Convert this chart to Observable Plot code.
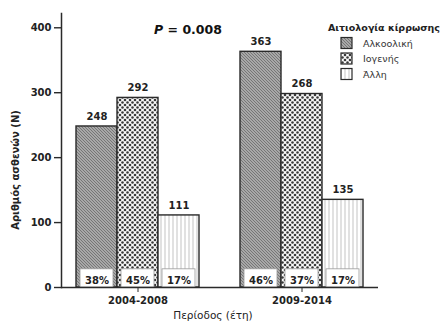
<!DOCTYPE html>
<html><head><meta charset="utf-8">
<script src="https://cdn.jsdelivr.net/npm/d3@7"></script>
<script src="https://cdn.jsdelivr.net/npm/@observablehq/plot@0.6"></script>
<style>
body{margin:0;background:#fff}
svg{font-family:"DejaVu Sans",sans-serif}
</style>
</head><body><div id="chart"></div>
<script>
// ---- data ----
const periods = ["2004-2008", "2009-2014"];
const etiologies = ["Αλκοολική", "Ιογενής", "Άλλη"];
const barValues2004 = [248, 292, 111];
const barValues2009 = [363, 298, 135];      // drawn heights (as in the picture)
const valueLabels2004 = ["248", "292", "111"];
const valueLabels2009 = ["363", "268", "135"];
const percents2004 = ["38%", "45%", "17%"];
const percents2009 = ["46%", "37%", "17%"];
const yTicks = [0, 100, 200, 300, 400];
const legendTitle = "Αιτιολογία κίρρωσης";
const yLabel = "Αριθμός ασθενών (Ν)";
const xLabel = "Περίοδος (έτη)";

const values = [barValues2004, barValues2009];
const labels = [valueLabels2004, valueLabels2009];
const pcts = [percents2004, percents2009];
const data = [];
periods.forEach((p, pi) => etiologies.forEach((e, ei) => data.push({
  period: p, etiology: e, ei, key: p + "|" + e,
  value: values[pi][ei], label: labels[pi][ei], pct: pcts[pi][ei]
})));
const domain = [
  ...etiologies.map(e => periods[0] + "|" + e), "gap",
  ...etiologies.map(e => periods[1] + "|" + e)
];
const midKeys = periods.map(p => p + "|" + etiologies[1]);

const ink = "#2a2a2a";
const txt = {fontFamily: "DejaVu Sans", fontWeight: "bold", fontSize: 10, fill: "#222"};

const chart = Plot.plot({
  width: 446, height: 324,
  marginLeft: 61, marginRight: 68, marginTop: 13, marginBottom: 37,
  x: {type: "band", domain, padding: 0, insetLeft: 15, insetRight: 15, axis: null},
  y: {domain: [0, 422], axis: null},
  marks: [
    ...etiologies.map((e, i) => Plot.barY(data.filter(d => d.ei === i), {
      x: "key", y: "value", fill: `url(#pat${i})`, stroke: ink, strokeWidth: 1.4
    })),
    Plot.barY(data, {x: "key", y1: d => 0, y2: d => 28, insetLeft: 4, insetRight: 4,
      fill: "#fff", stroke: "#9a9a9a", strokeWidth: 0.8}),
    Plot.text(data, {x: "key", y: d => 0, dy: -7, text: "pct", ...txt}),
    Plot.text(data, {x: "key", y: "value", dy: -10, text: "label", ...txt}),
    Plot.ruleY([0], {stroke: ink, strokeWidth: 1.5}),
    Plot.frame({anchor: "left", stroke: ink, strokeWidth: 1.5}),
    Plot.axisY({ticks: yTicks, tickSize: 7, tickPadding: 3, label: null, stroke: ink, strokeWidth: 1.4, ...txt}),
    Plot.axisX({ticks: midKeys, tickFormat: k => k.split("|")[0], tickSize: 5, tickPadding: 4, label: null, stroke: ink, ...txt})
  ]
});

const svg = d3.select(chart);
const defs = svg.insert("defs", ":first-child");
// Αλκοολική: dense diagonal hatching
const p0 = defs.append("pattern").attr("id", "pat0").attr("patternUnits", "userSpaceOnUse").attr("width", 3).attr("height", 3);
p0.append("rect").attr("width", 3).attr("height", 3).attr("fill", "#a8a8a8");
p0.append("path").attr("d", "M-1,-1L4,4M-1,2L1,4M2,-1L4,1").attr("stroke", "#606060").attr("stroke-width", 0.7);
// Ιογενής: dotted lattice
const p1 = defs.append("pattern").attr("id", "pat1").attr("patternUnits", "userSpaceOnUse").attr("width", 5).attr("height", 5);
p1.append("rect").attr("width", 5).attr("height", 5).attr("fill", "#fafafa");
[[0,0],[5,0],[0,5],[5,5],[2.5,2.5]].forEach(([cx, cy]) =>
  p1.append("circle").attr("cx", cx).attr("cy", cy).attr("r", 1.3).attr("fill", "#3a3a3a"));
// Άλλη: light vertical lines
const p2 = defs.append("pattern").attr("id", "pat2").attr("patternUnits", "userSpaceOnUse").attr("width", 4).attr("height", 4);
p2.append("rect").attr("width", 4).attr("height", 4).attr("fill", "#fff");
p2.append("line").attr("x1", 1).attr("x2", 1).attr("y1", 0).attr("y2", 4).attr("stroke", "#c4c4c4").attr("stroke-width", 1);

// P value
const pt = svg.append("text").attr("x", 188).attr("y", 34).attr("text-anchor", "middle")
  .attr("font-size", 12.5).attr("font-weight", "bold").attr("fill", "#111");
pt.append("tspan").attr("font-style", "italic").text("P");
pt.append("tspan").text(" = 0.008");

// legend
const lg = svg.append("g").attr("text-anchor", "start");
lg.append("text").attr("x", 328).attr("y", 31).attr("text-anchor", "start")
  .attr("font-size", 9.5).attr("font-weight", "bold").attr("fill", "#222").text(legendTitle);
etiologies.forEach((e, i) => {
  const y = 37.5 + i * 15.5;
  lg.append("rect").attr("x", 341).attr("y", y).attr("width", 11).attr("height", 11)
    .attr("fill", `url(#pat${i})`).attr("stroke", ink).attr("stroke-width", 1.2);
  lg.append("text").attr("x", 363).attr("y", y + 9).attr("text-anchor", "start")
    .attr("font-size", 9.5).attr("fill", "#333").text(e);
});

// axis labels
svg.append("text").attr("transform", "translate(19,170) rotate(-90)").attr("text-anchor", "middle")
  .attr("font-size", 10).attr("font-weight", "bold").attr("fill", "#222").text(yLabel);
svg.append("text").attr("x", 213).attr("y", 319).attr("text-anchor", "middle")
  .attr("font-size", 10.5).attr("fill", "#222").text(xLabel);

document.getElementById("chart").appendChild(chart);
</script>
</body></html>
